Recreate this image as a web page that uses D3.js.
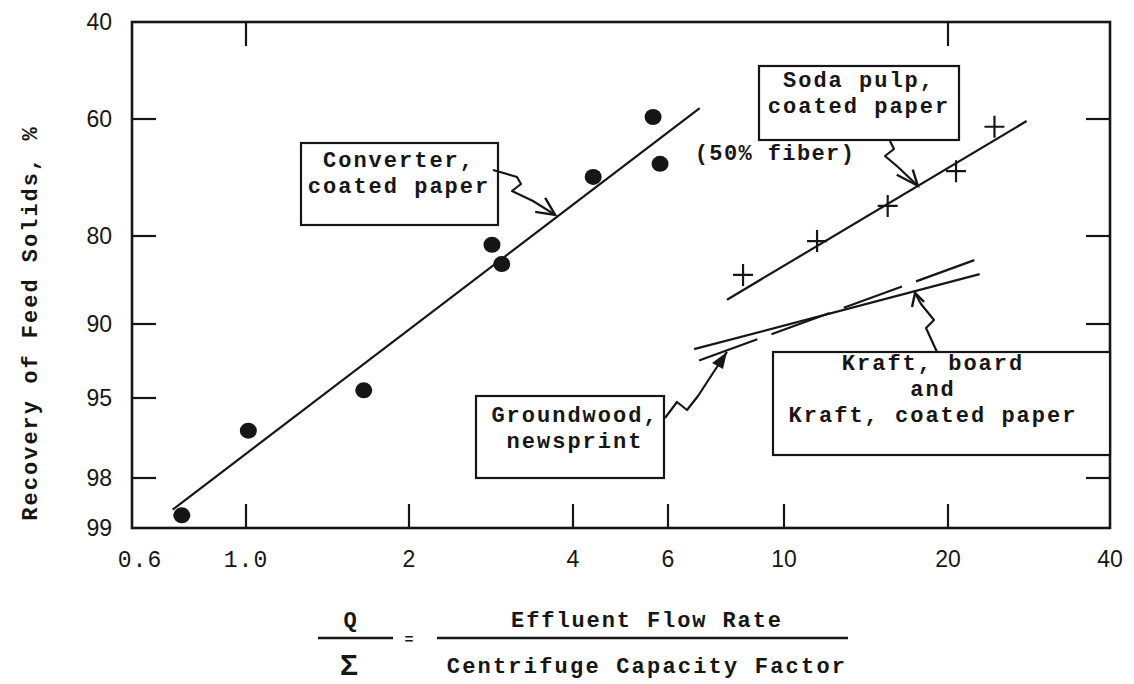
<!DOCTYPE html>
<html>
<head>
<meta charset="utf-8">
<script src="https://cdn.jsdelivr.net/npm/d3@7"></script>
<style>
  body { margin: 0; background: #fff; }
  svg { display: block; }
</style>
</head>
<body>
<svg id="chart" width="1134" height="684"></svg>
<script>
// axis ticks
const xTicks = [0.6, 1, 2, 4, 6, 10, 20, 40];
const xTickLabels = ["0.6", "1.0", "2", "4", "6", "10", "20", "40"];
const yTicks = [40, 60, 80, 90, 95, 98, 99];

// converter, coated paper (dots)
const converterQ = [0.75, 1.01, 1.65, 2.84, 2.96, 4.36, 5.63, 5.80];
const converterRec = [98.8, 96.5, 94.6, 81.2, 83.7, 70.7, 59.6, 68.4];
const converterFit = [[0.72, 98.7], [6.9, 57.8]];

// soda pulp, coated paper (crosses)
const sodaQ = [8.35, 11.5, 15.5, 20.7, 24.4];
const sodaRec = [85.0, 80.7, 75.5, 69.7, 61.5];
const sodaFit = [[7.78, 87.7], [28.0, 60.4]];

// kraft (solid) and groundwood (dashed)
const kraftFit = [[6.73, 92.0], [22.9, 84.9]];
const groundwoodFit = [[6.88, 92.8], [22.4, 83.2]];

// normal quantile (Acklam), recovery axis is a probability scale
function probit(p) {
  const a = [-3.969683028665376e+01, 2.209460984245205e+02, -2.759285104469687e+02, 1.383577518672690e+02, -3.066479806614716e+01, 2.506628277459239e+00];
  const b = [-5.447609879822406e+01, 1.615858368580409e+02, -1.556989798598866e+02, 6.680131188771972e+01, -1.328068155288572e+01];
  const c = [-7.784894002430293e-03, -3.223964580411365e-01, -2.400758277161838e+00, -2.549732539343734e+00, 4.374664141464968e+00, 2.938163982698783e+00];
  const d = [7.784695709041462e-03, 3.224671290700398e-01, 2.445134137142996e+00, 3.754408661907416e+00];
  const pl = 0.02425;
  let q, r;
  if (p < pl) {
    q = Math.sqrt(-2 * Math.log(p));
    return (((((c[0]*q+c[1])*q+c[2])*q+c[3])*q+c[4])*q+c[5]) / ((((d[0]*q+d[1])*q+d[2])*q+d[3])*q+1);
  } else if (p <= 1 - pl) {
    q = p - 0.5; r = q * q;
    return (((((a[0]*r+a[1])*r+a[2])*r+a[3])*r+a[4])*r+a[5])*q / (((((b[0]*r+b[1])*r+b[2])*r+b[3])*r+b[4])*r+1);
  } else {
    q = Math.sqrt(-2 * Math.log(1 - p));
    return -(((((c[0]*q+c[1])*q+c[2])*q+c[3])*q+c[4])*q+c[5]) / ((((d[0]*q+d[1])*q+d[2])*q+d[3])*q+1);
  }
}

const plotL = 132, plotR = 1110, plotT = 22, plotB = 528;

// hand-drawn paper: tick spacing is a little uneven, so map each tick
const x = d3.scaleLog()
  .domain(xTicks)
  .range([plotL, 246, 409, 573, 668, 784, 948, plotR]);

const yz = d3.scaleLinear()
  .domain(yTicks.map(v => probit(v / 100)))
  .range([plotT, 119, 236, 324, 398, 478, plotB]);
const y = v => yz(probit(v / 100));

const svg = d3.select("#chart");
const ink = "#161616";
const mono = "'Courier New', Courier, 'Nimbus Mono PS', FreeMono, 'Liberation Mono', 'DejaVu Sans Mono', monospace";
const sans = "'Liberation Sans', 'DejaVu Sans', sans-serif";

// frame
svg.append("rect")
  .attr("x", plotL).attr("y", plotT)
  .attr("width", plotR - plotL).attr("height", plotB - plotT)
  .attr("fill", "none").attr("stroke", ink).attr("stroke-width", 2.6);

// ticks (inward)
const tk = 24;
const innerX = xTicks.slice(1, -1);
const innerY = yTicks.slice(1, -1);
svg.append("g").selectAll("line").data(innerX).join("line")
  .attr("x1", d => x(d)).attr("x2", d => x(d))
  .attr("y1", plotB).attr("y2", plotB - tk)
  .attr("stroke", ink).attr("stroke-width", 2.2);
svg.append("g").selectAll("line").data([1, 20]).join("line")
  .attr("x1", d => x(d)).attr("x2", d => x(d))
  .attr("y1", plotT).attr("y2", plotT + tk)
  .attr("stroke", ink).attr("stroke-width", 2.2);
svg.append("g").selectAll("line").data(innerY).join("line")
  .attr("x1", plotL).attr("x2", plotL + tk)
  .attr("y1", d => y(d)).attr("y2", d => y(d))
  .attr("stroke", ink).attr("stroke-width", 2.2);
svg.append("g").selectAll("line").data(innerY).join("line")
  .attr("x1", plotR).attr("x2", plotR - tk)
  .attr("y1", d => y(d)).attr("y2", d => y(d))
  .attr("stroke", ink).attr("stroke-width", 2.2);

// tick labels
svg.append("g").selectAll("text").data(yTicks).join("text")
  .attr("x", 112).attr("y", d => y(d))
  .attr("dy", "0.36em")
  .attr("text-anchor", "end")
  .style("font-family", sans).style("font-size", "23px").attr("fill", ink)
  .text(d => d);

svg.append("g").selectAll("text").data(xTicks).join("text")
  .attr("x", (d, i) => x(d) + (i === 0 ? 8 : 0))
  .attr("y", 567)
  .attr("text-anchor", "middle")
  .style("font-family", (d, i) => i < 2 ? mono : sans)
  .style("font-size", "23px")
  .style("letter-spacing", (d, i) => i < 2 ? "1px" : "0px")
  .attr("fill", ink)
  .text((d, i) => xTickLabels[i]);

// fit lines
const line = d3.line().x(d => x(d[0])).y(d => y(d[1]));
[converterFit, sodaFit, kraftFit].forEach(f => {
  svg.append("path").attr("d", line(f))
    .attr("fill", "none").attr("stroke", ink).attr("stroke-width", 2.2);
});
svg.append("path").attr("d", line(groundwoodFit))
  .attr("fill", "none").attr("stroke", ink).attr("stroke-width", 2.2)
  .attr("stroke-dasharray", "62,15");

// converter dots
svg.append("g").selectAll("ellipse").data(converterQ).join("ellipse")
  .attr("cx", d => x(d)).attr("cy", (d, i) => y(converterRec[i]))
  .attr("rx", 8.5).attr("ry", 8)
  .attr("fill", ink);

// soda crosses
svg.append("g").selectAll("path").data(sodaQ).join("path")
  .attr("d", (d, i) => {
    const cx = x(d), cy = y(sodaRec[i]);
    return `M${cx - 10},${cy}H${cx + 10}M${cx},${cy - 11}V${cy + 11}`;
  })
  .attr("stroke", ink).attr("stroke-width", 2.2).attr("fill", "none");

// label boxes
const boxes = [
  { x0: 301, y0: 143, x1: 498, y1: 225, cx: 399, lines: [["Converter,", 167], ["coated paper", 193]] },
  { x0: 759, y0: 66, x1: 959, y1: 140, cx: 859, lines: [["Soda pulp,", 87], ["coated paper", 113]] },
  { x0: 773, y0: 352, x1: 1110, y1: 455, cx: 933, lines: [["Kraft, board", 370], ["and", 396], ["Kraft, coated paper", 422]] },
  { x0: 476, y0: 396, x1: 664, y1: 478, cx: 575, lines: [["Groundwood,", 422], ["newsprint", 448]] }
];
boxes.forEach(b => {
  svg.append("rect")
    .attr("x", b.x0).attr("y", b.y0)
    .attr("width", b.x1 - b.x0).attr("height", b.y1 - b.y0)
    .attr("fill", "#fff").attr("stroke", ink).attr("stroke-width", 2.2);
  b.lines.forEach(l => {
    svg.append("text")
      .attr("x", b.cx).attr("y", l[1])
      .attr("text-anchor", "middle")
      .style("font-family", mono).style("font-weight", "bold")
      .style("font-size", "22px").style("letter-spacing", "2px")
      .attr("fill", ink)
      .text(l[0]);
  });
});

svg.append("text")
  .attr("x", 775).attr("y", 160)
  .attr("text-anchor", "middle")
  .style("font-family", mono).style("font-weight", "bold")
  .style("font-size", "22px").style("letter-spacing", "1.4px")
  .attr("fill", ink)
  .text("(50% fiber)");

// wavy callout arrows: start at the box, end on the line
const callouts = [
  { pts: [[493, 170], [517, 177], [521, 184], [512, 191], [533, 201]], tip: [3.71, 76.9], barbs: [[-20, -3], [-10, -17]] },
  { pts: [[890, 141], [894, 149], [885, 156], [898, 167]], tip: [17.6, 72.2], barbs: [[-21, -11], [-5, -16]] },
  { pts: [[937, 352], [926, 328], [934, 320], [921, 304]], tip: [17.4, 87.0], barbs: [[-3, 14], [9, 9]] },
  { pts: [[665, 418], [677, 402], [687, 410], [698, 396], [713, 373]], tip: [7.78, 92.2], filled: true }
];
callouts.forEach(c => {
  const tx = x(c.tip[0]), ty = y(c.tip[1]);
  const pts = c.pts.concat([[tx, ty]]);
  svg.append("path")
    .attr("d", d3.line()(pts))
    .attr("fill", "none").attr("stroke", ink).attr("stroke-width", 2.2)
    .attr("stroke-linejoin", "round");
  if (c.filled) {
    svg.append("path")
      .attr("d", `M${tx},${ty}L${tx - 15},${ty + 11}L${tx - 4},${ty + 17}Z`)
      .attr("fill", ink);
  } else {
    svg.append("path")
      .attr("d", `M${tx + c.barbs[0][0]},${ty + c.barbs[0][1]}L${tx},${ty}L${tx + c.barbs[1][0]},${ty + c.barbs[1][1]}`)
      .attr("fill", "none").attr("stroke", ink).attr("stroke-width", 2.4);
  }
});

// y axis title
svg.append("text")
  .attr("transform", "translate(37,323) rotate(-90)")
  .attr("text-anchor", "middle")
  .style("font-family", mono).style("font-weight", "bold")
  .style("font-size", "22px").style("letter-spacing", "2px")
  .attr("fill", ink)
  .text("Recovery of Feed Solids, %");

// x axis title: Q / Σ = Effluent Flow Rate / Centrifuge Capacity Factor
const t = svg.append("g").attr("fill", ink)
  .style("font-family", mono).style("font-weight", "bold");
t.append("text").attr("x", 350).attr("y", 627).attr("text-anchor", "middle")
  .style("font-size", "22px").text("Q");
t.append("line").attr("x1", 318).attr("x2", 393).attr("y1", 638).attr("y2", 638)
  .attr("stroke", ink).attr("stroke-width", 2.5);
t.append("text").attr("x", 349).attr("y", 675).attr("text-anchor", "middle")
  .style("font-family", sans).style("font-size", "30px").text("Σ");
t.append("text").attr("x", 409).attr("y", 644).attr("text-anchor", "middle")
  .style("font-size", "15px").text("=");
t.append("line").attr("x1", 437).attr("x2", 848).attr("y1", 638).attr("y2", 638)
  .attr("stroke", ink).attr("stroke-width", 2.5);
t.append("text").attr("x", 647).attr("y", 627).attr("text-anchor", "middle")
  .style("font-size", "22px").style("letter-spacing", "1.9px").text("Effluent Flow Rate");
t.append("text").attr("x", 647).attr("y", 673).attr("text-anchor", "middle")
  .style("font-size", "22px").style("letter-spacing", "2.2px").text("Centrifuge Capacity Factor");
</script>
</body>
</html>
